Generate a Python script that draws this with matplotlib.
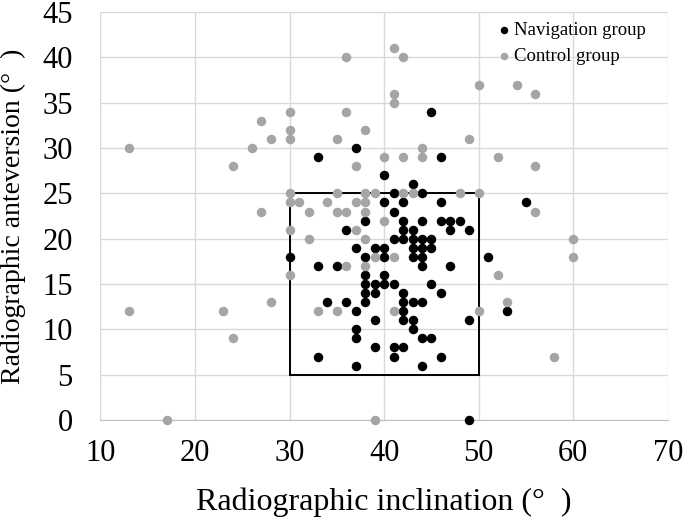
import matplotlib
matplotlib.use("Agg")
from matplotlib import pyplot as plt
from matplotlib.patches import Rectangle

plt.rcParams['font.family'] = ['Liberation Serif', 'DejaVu Serif']

# navigation group (inclination, anteversion)
navX = [45, 37, 33, 46, 40, 43,
        41, 44,
        40, 42, 46, 55,
        41,
        38, 42, 44, 46, 47, 48,
        36, 42, 43, 47, 49,
        41, 42, 43, 44, 45,
        37, 39, 40, 43, 44, 45,
        30, 38, 40, 43, 44, 51,
        33, 35, 44, 47,
        38, 40,
        38, 39, 40, 41, 45,
        38, 39, 42, 46,
        34, 36, 38, 42, 43, 44,
        37, 42, 53,
        39, 42, 43, 49,
        37, 43,
        37, 44, 45,
        39, 41, 42,
        33, 41, 46,
        37, 44,
        49]
navY = [34, 30, 29, 29, 27, 26,
        25, 25,
        24, 24, 24, 24,
        23,
        22, 22, 22, 22, 22, 22,
        21, 21, 21, 21, 21,
        20, 20, 20, 20, 20,
        19, 19, 19, 19, 19, 19,
        18, 18, 18, 18, 18, 18,
        17, 17, 17, 17,
        16, 16,
        15, 15, 15, 15, 15,
        14, 14, 14, 14,
        13, 13, 13, 13, 13, 13,
        12, 12, 12,
        11, 11, 11, 11,
        10, 10,
        9, 9, 9,
        8, 8, 8,
        7, 7, 7,
        6, 6,
        0]

# control group
ctrlX = [41,
         36, 42,
         50, 54,
         41, 56,
         41,
         30, 36,
         27,
         30, 38,
         28, 30, 35, 49,
         13, 26, 44,
         40, 42, 44, 52,
         24, 37, 56,
         30, 35, 38, 39, 42, 43, 48, 50,
         30, 31, 34, 37, 38,
         27, 32, 35, 36, 38, 56,
         40,
         30, 37,
         32, 38, 60,
         39, 41, 60,
         36, 38,
         30, 52,
         28, 53,
         13, 23, 33, 35, 41, 50,
         24,
         58,
         17, 39]
ctrlY = [41,
         40, 40,
         37, 37,
         36, 36,
         35,
         34, 34,
         33,
         32, 32,
         31, 31, 31, 31,
         30, 30, 30,
         29, 29, 29, 29,
         28, 28, 28,
         25, 25, 25, 25, 25, 25, 25, 25,
         24, 24, 24, 24, 24,
         23, 23, 23, 23, 23, 23,
         22,
         21, 21,
         20, 20, 20,
         18, 18, 18,
         17, 17,
         16, 16,
         13, 13,
         12, 12, 12, 12, 12, 12,
         9,
         7,
         0, 0]

fig = plt.figure(figsize=(6.85, 5.25), dpi=100)
ax = fig.add_axes([0.1467, 0.2, 0.8283, 0.777])

ax.add_patch(Rectangle((30, 5), 20, 20, fill=False, edgecolor='black', linewidth=1.4, zorder=2))

ax.scatter(navX, navY, s=34, color='black', label='Navigation group', zorder=3, clip_on=False)
ax.scatter(ctrlX, ctrlY, s=34, color='#a5a5a5', label='Control group', zorder=4, clip_on=False)

ax.set_xlim(10, 70)
ax.set_ylim(0, 45)
ax.set_xticks(range(10, 71, 10))
ax.set_yticks(range(0, 46, 5))
ax.grid(True, color='#d9d9d9', linewidth=1.0)
ax.set_axisbelow(True)
for s in ['top', 'right', 'left']:
    ax.spines[s].set_visible(False)
ax.spines['bottom'].set_color('#bfbfbf')
ax.tick_params(length=0, labelsize=22, pad=14)
ax.tick_params(axis='y', pad=20)

ax.set_xlabel('Radiographic inclination (°  )', fontsize=23, labelpad=14)
ax.set_ylabel('Radiographic anteversion (°  )', fontsize=20)
ax.yaxis.set_label_coords(-0.131, 0.5)

ax.legend(loc='upper left', bbox_to_anchor=(0.688, 0.995), frameon=False, fontsize=13.5,
          handlelength=0.6, handletextpad=0.25, markerscale=0.75, labelspacing=0.5,
          borderaxespad=0.0)

fig.savefig('out.png', dpi=100)
